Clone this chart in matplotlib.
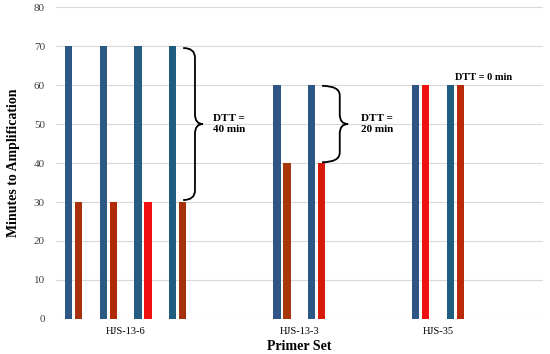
import matplotlib.pyplot as plt
import numpy as np
from matplotlib.path import Path
from matplotlib.patches import PathPatch

plt.rcParams['font.family'] = ['Liberation Serif', 'DejaVu Serif']

categories = ["HJS-13-6", "HJS-13-3", "HJS-35"]
blue_vals = [[70, 70, 70, 70], [60, 60], [60, 60]]
red_vals = [[30, 30, 30, 30], [40, 40], [60, 60]]
blue_cols = [["#2D5886", "#2A5A84", "#245C82", "#1F5D80"], ["#2E5585", "#2A5783"], ["#2F5485", "#1D5E80"]]
red_cols = [["#A8300C", "#B02A08", "#F01010", "#A4300C"], ["#A8380C", "#D81A0A"], ["#F01010", "#B82A08"]]

fig = plt.figure(figsize=(5.5, 3.54), dpi=100)
ax = fig.add_axes([0.102, 0.099, 0.885, 0.881])

gap = 2
w = 0.21
slot = 0
centers = []
for i in range(len(categories)):
    n = len(blue_vals[i])
    xs = np.arange(slot, slot + n)
    ax.bar(xs + 0.1, blue_vals[i], width=w, color=blue_cols[i], zorder=2)
    ax.bar(xs + 0.39, red_vals[i], width=w, color=red_cols[i], zorder=2)
    centers.append((xs[0] + xs[-1] + 0.5) / 2)
    slot += n + gap

ax.set_xlim(-0.26, 13.76)
ax.set_ylim(0, 80)
ax.set_yticks(range(0, 81, 10))
ax.set_xticks(centers)
ax.set_xticklabels(categories, fontsize=7.5)
ax.tick_params(axis='y', labelsize=8, length=0, pad=8, colors='#404040')
ax.tick_params(axis='x', length=0, pad=6)
ax.grid(axis='y', color='#D9D9D9', linewidth=0.8, zorder=0)
for s in ax.spines.values():
    s.set_visible(False)
ax.set_ylabel("Minutes to Amplification", fontsize=10, fontweight='bold', labelpad=10)
ax.set_xlabel("Primer Set", fontsize=10, fontweight='bold', labelpad=3)


def brace(x0, xv, xt, ytop, ybot, r=2.5):
    ymid = (ytop + ybot) / 2
    verts = [(x0, ytop), (xv, ytop), (xv, ytop - r),
             (xv, ymid + r), (xv, ymid), (xt, ymid),
             (xv, ymid), (xv, ymid - r),
             (xv, ybot + r), (xv, ybot), (x0, ybot)]
    codes = [Path.MOVETO, Path.CURVE3, Path.CURVE3,
             Path.LINETO, Path.CURVE3, Path.CURVE3,
             Path.CURVE3, Path.CURVE3,
             Path.LINETO, Path.CURVE3, Path.CURVE3]
    ax.add_patch(PathPatch(Path(verts, codes), fill=False, lw=1.3, color='black', zorder=3))


brace(3.40, 3.74, 3.97, 69.5, 30.5)
brace(7.40, 7.91, 8.15, 59.8, 40.2)
ax.text(4.26, 50, "DTT =\n40 min", fontsize=8, fontweight='bold', va='center', ha='left', linespacing=1.3)
ax.text(8.52, 50, "DTT =\n20 min", fontsize=8, fontweight='bold', va='center', ha='left', linespacing=1.3)
ax.text(11.22, 62, "DTT = 0 min", fontsize=7.5, fontweight='bold', va='center', ha='left')

fig.savefig("out.png", dpi=100)
